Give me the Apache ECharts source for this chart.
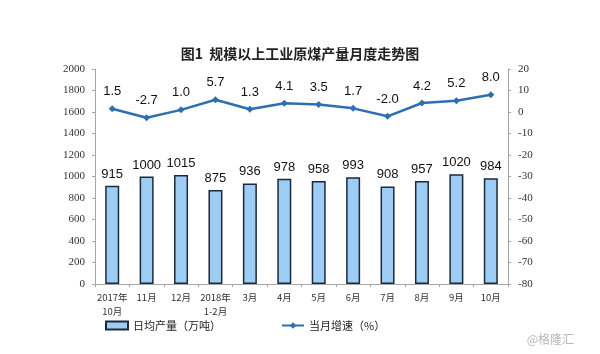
<!DOCTYPE html>
<html>
<head>
<meta charset="utf-8">
<script src="https://cdn.jsdelivr.net/npm/echarts@6/dist/echarts.min.js"></script>
<style>
  html, body { margin: 0; padding: 0; background: #fff; }
  #chart { width: 600px; height: 354px; }
</style>
</head>
<body>
<div id="chart"></div>
<script>
// 月份
const months = ['2017年\n10月', '11月', '12月', '2018年\n1-2月', '3月', '4月', '5月', '6月', '7月', '8月', '9月', '10月']
// 日均产量（万吨）
const dailyOutput = [915, 1000, 1015, 875, 936, 978, 958, 993, 908, 957, 1020, 984]
// 当月增速（%）
const growthRate = [1.5, -2.7, 1.0, 5.7, 1.3, 4.1, 3.5, 1.7, -2.0, 4.2, 5.2, 8.0]

const axisColor = '#a6a6a6'
const labelFont = 'Liberation Serif'

const chart = echarts.init(document.getElementById('chart'))
chart.setOption({
  animation: false,
  title: {
    text: '图1  规模以上工业原煤产量月度走势图',
    left: 'center',
    top: 42,
    textStyle: {
      fontFamily: 'Noto Sans CJK SC',
      fontSize: 14,
      fontWeight: 'bold',
      color: '#222'
    }
  },
  graphic: [{
    type: 'text',
    right: 26,
    top: 333,
    style: {
      text: '@格隆汇',
      fill: '#b8b8b8',
      font: '12px "Noto Sans CJK SC"'
    }
  }],
  legend: {
    top: 315,
    left: 100,
    itemGap: 60,
    itemWidth: 22,
    itemHeight: 8,
    textStyle: { fontFamily: 'Noto Sans CJK SC', fontSize: 11, color: '#222' },
    data: [
      { name: '日均产量（万吨）', icon: 'rect' },
      { name: '当月增速（%）' }
    ]
  },
  grid: { left: 95, right: 92, top: 69, bottom: 70 },
  xAxis: {
    type: 'category',
    data: months,
    axisLine: { lineStyle: { color: axisColor } },
    axisTick: { show: true, length: 3, lineStyle: { color: axisColor } },
    axisLabel: {
      interval: 0,
      fontFamily: 'Noto Sans CJK SC',
      fontSize: 9.5,
      color: '#333',
      lineHeight: 14,
      margin: 6
    }
  },
  yAxis: [
    {
      type: 'value',
      min: 0,
      max: 2000,
      interval: 200,
      axisLine: { show: true, lineStyle: { color: axisColor } },
      axisTick: { show: true, length: 3, lineStyle: { color: axisColor } },
      splitLine: { show: false },
      axisLabel: { fontFamily: labelFont, fontSize: 11, color: '#333', margin: 10, formatter: v => String(v) }
    },
    {
      type: 'value',
      min: -80,
      max: 20,
      interval: 10,
      axisLine: { show: true, lineStyle: { color: axisColor } },
      axisTick: { show: true, length: 3, lineStyle: { color: axisColor } },
      splitLine: { show: false },
      axisLabel: { fontFamily: labelFont, fontSize: 11, color: '#333', margin: 10, formatter: v => String(v) }
    }
  ],
  series: [
    {
      name: '日均产量（万吨）',
      type: 'bar',
      yAxisIndex: 0,
      barWidth: 14,
      itemStyle: {
        color: '#9dccf5',
        borderColor: '#1c2a3a',
        borderWidth: 1.5
      },
      label: {
        show: true,
        position: 'top',
        distance: 5,
        fontFamily: 'Liberation Sans',
        fontSize: 13,
        color: '#111'
      },
      data: dailyOutput
    },
    {
      name: '当月增速（%）',
      type: 'line',
      yAxisIndex: 1,
      symbol: 'diamond',
      symbolSize: 7,
      lineStyle: { color: '#2e6fb0', width: 2.5 },
      itemStyle: { color: '#2e6fb0' },
      label: {
        show: true,
        position: 'top',
        distance: 7,
        fontFamily: 'Liberation Sans',
        fontSize: 13,
        color: '#111',
        formatter: p => p.value.toFixed(1)
      },
      data: growthRate
    }
  ]
})
</script>
</body>
</html>
